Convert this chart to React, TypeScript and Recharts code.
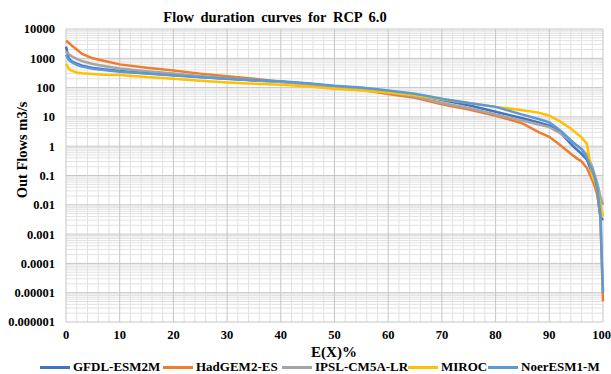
import React from "react";
import { LineChart, Line, XAxis, YAxis, ReferenceLine } from "recharts";

// exceedance probability E(X) in %
const exceedance = [0, 0.5, 1, 2, 3, 5, 7, 10, 15, 20, 25, 30, 35, 40, 45, 50, 55, 60, 65, 70, 75, 80, 85, 88, 90, 92, 94, 95, 96, 97, 98, 98.5, 99, 99.5, 100];

const gfdl = [2500, 1000, 800, 650, 560, 470, 420, 370, 310, 270, 230, 200, 175, 158, 135, 112, 95, 75, 58, 38, 25, 15, 9, 6.5, 5, 3, 1.2, 0.8, 0.55, 0.35, 0.12, 0.07, 0.02, 0.004, 0.003];
const hadgem = [4000, 3400, 2800, 2000, 1400, 1000, 820, 620, 480, 380, 300, 245, 200, 160, 130, 105, 85, 60, 45, 27, 18, 11, 6, 3, 2.1, 1.1, 0.55, 0.4, 0.3, 0.18, 0.07, 0.04, 0.02, 0.004, 0.000005];
const ipsl = [1700, 1400, 1200, 950, 800, 640, 550, 450, 360, 300, 250, 210, 180, 155, 130, 105, 88, 68, 50, 30, 20, 12, 7.5, 5.5, 4.5, 2.8, 1.5, 1.1, 0.8, 0.5, 0.2, 0.1, 0.05, 0.02, 0.01];
const miroc = [650, 450, 380, 330, 310, 290, 275, 270, 230, 200, 172, 150, 135, 125, 110, 92, 80, 68, 55, 40, 30, 22, 17, 14, 11, 7, 4, 2.8, 2, 1.2, 0.1, 0.06, 0.03, 0.01, 0.004];
const noer = [1300, 900, 750, 600, 520, 440, 400, 350, 300, 260, 225, 200, 180, 165, 140, 115, 100, 80, 62, 42, 30, 22, 12, 8.5, 6.5, 3.5, 1.6, 1.1, 0.8, 0.4, 0.15, 0.08, 0.03, 0.005, 0.00001];

const xTicks = [0, 10, 20, 30, 40, 50, 60, 70, 80, 90, 100];
const yTicks = [0.000001, 0.00001, 0.0001, 0.001, 0.01, 0.1, 1, 10, 100, 1000, 10000];
const yTickLabels = ["0.000001", "0.00001", "0.0001", "0.001", "0.01", "0.1", "1", "10", "100", "1000", "10000"];

const series = [
  { key: "gfdl", name: "GFDL-ESM2M", color: "#4472C4", values: gfdl },
  { key: "hadgem", name: "HadGEM2-ES", color: "#ED7D31", values: hadgem },
  { key: "ipsl", name: "IPSL-CM5A-LR", color: "#A5A5A5", values: ipsl },
  { key: "miroc", name: "MIROC", color: "#FFC000", values: miroc },
  { key: "noer", name: "NoerESM1-M", color: "#5B9BD5", values: noer },
];

const data = exceedance.map((e, i) => {
  const row: Record<string, number> = { e };
  series.forEach((s) => (row[s.key] = s.values[i]));
  return row;
});

// minor gridlines (log 2..9 per decade, every 2 % on x)
const minorY: number[] = [];
for (let d = -6; d < 4; d++) {
  for (let m = 2; m <= 9; m++) minorY.push(m * Math.pow(10, d));
}
const minorX = [2, 4, 6, 8, 12, 14, 16, 18, 22, 24, 26, 28, 32, 34, 36, 38, 42, 44, 46, 48, 52, 54, 56, 58, 62, 64, 66, 68, 72, 74, 76, 78, 82, 84, 86, 88, 92, 94, 96, 98];

const font = "Liberation Serif, Times New Roman, serif";
const legendPos = [40, 163, 282, 408, 488];
const tickStyle = { fill: "#000", fontSize: 12.5, fontWeight: "bold", fontFamily: font };

export default function App() {
  return (
    <div style={{ position: "absolute", left: 0, top: 0, width: 611, height: 374, background: "#fff" }}>
      <LineChart width={611} height={374} data={data} margin={{ top: 29, right: 8, bottom: 22, left: 0 }}>
        <XAxis
          dataKey="e"
          type="number"
          domain={[0, 100]}
          ticks={xTicks}
          axisLine={false}
          tickLine={false}
          height={30}
          tick={tickStyle}
        />
        <YAxis
          scale="log"
          domain={[0.000001, 10000]}
          allowDataOverflow
          ticks={yTicks}
          width={66}
          axisLine={false}
          tickLine={false}
          tickMargin={5}
          tickFormatter={(v: number) => yTickLabels[yTicks.indexOf(v)] ?? String(v)}
          tick={tickStyle}
        />
        {minorY.map((v, i) => (
          <ReferenceLine key={"my" + i} y={v} stroke="#e2e2e2" />
        ))}
        {minorX.map((v, i) => (
          <ReferenceLine key={"mx" + i} x={v} stroke="#e2e2e2" />
        ))}
        {yTicks.map((v, i) => (
          <ReferenceLine key={"y" + i} y={v} stroke="#c6c6c6" />
        ))}
        {xTicks.map((v, i) => (
          <ReferenceLine key={"x" + i} x={v} stroke="#c6c6c6" />
        ))}
        {series.map((s) => (
          <Line
            key={s.key}
            dataKey={s.key}
            name={s.name}
            stroke={s.color}
            strokeWidth={2.5}
            dot={false}
            type="linear"
            isAnimationActive={false}
          />
        ))}
      </LineChart>
      <div style={{ position: "absolute", left: 0, width: 550, top: 9, textAlign: "center", fontFamily: font, fontWeight: "bold", fontSize: 14.5, wordSpacing: 3, color: "#000" }}>
        Flow  duration  curves for RCP 6.0
      </div>
      <div style={{ position: "absolute", left: 22, top: 150, transform: "translate(-50%, -50%) rotate(-90deg)", whiteSpace: "nowrap", fontFamily: font, fontWeight: "bold", fontSize: 14.5, color: "#000" }}>
        Out Flows m3/s
      </div>
      <div style={{ position: "absolute", left: 334, top: 352, transform: "translate(-50%, -50%)", whiteSpace: "nowrap", fontFamily: font, fontWeight: "bold", fontSize: 15, color: "#000" }}>
        E(X)%
      </div>
      {series.map((s, i) => (
        <div key={s.key} style={{ position: "absolute", left: legendPos[i], top: 359, height: 16, display: "flex", alignItems: "center", whiteSpace: "nowrap", fontFamily: font, fontWeight: "bold", fontSize: 13, color: "#000" }}>
          <span style={{ display: "inline-block", width: 30, height: 3, background: s.color, marginRight: 3 }} />
          {s.name}
        </div>
      ))}
    </div>
  );
}
